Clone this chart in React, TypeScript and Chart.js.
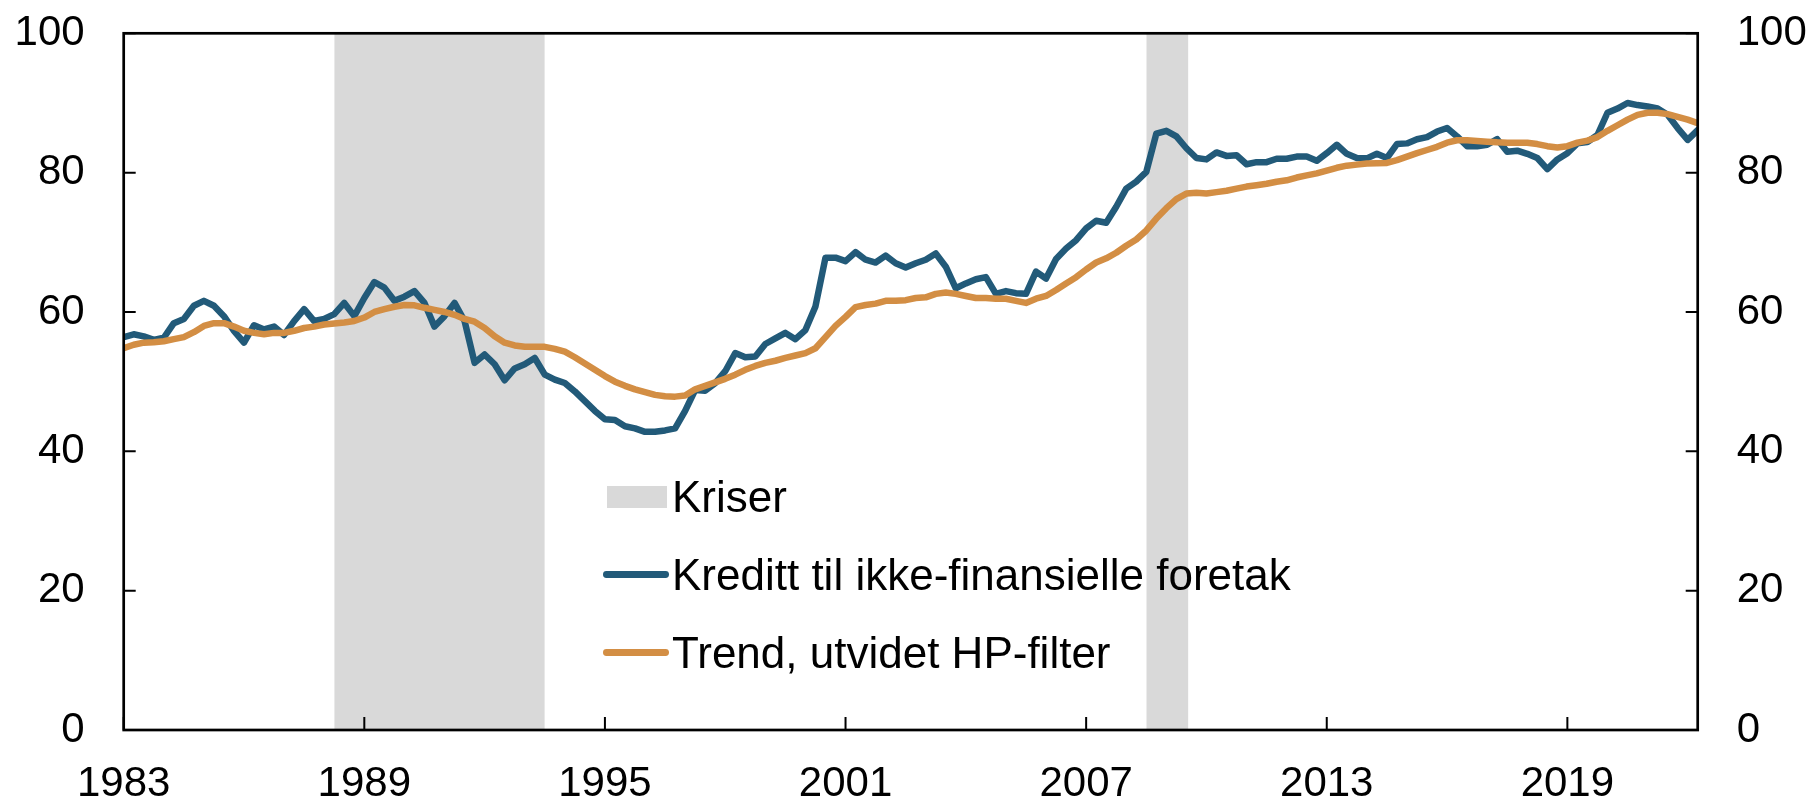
import React, { useEffect, useRef } from "react";
import { Chart, registerables } from "chart.js";

Chart.register(...registerables);

// Quarterly observations, 1983Q1 – 2022Q2
const startYear = 1983;
const kreditt: number[] = [
  56.4, 56.8, 56.5, 56.0, 56.3, 58.4, 59.0, 60.9, 61.6, 60.9,
  59.4, 57.3, 55.6, 58.1, 57.5, 57.9, 56.7, 58.7, 60.4, 58.7,
  59.0, 59.7, 61.3, 59.4, 62.0, 64.3, 63.5, 61.6, 62.2, 63.0,
  61.3, 57.9, 59.4, 61.3, 58.7, 52.7, 53.9, 52.5, 50.2, 51.9,
  52.5, 53.4, 51.0, 50.3, 49.8, 48.6, 47.2, 45.8, 44.6, 44.5,
  43.6, 43.3, 42.8, 42.8, 43.0, 43.3, 45.8, 48.8, 48.7, 49.8,
  51.5, 54.1, 53.5, 53.6, 55.4, 56.2, 57.0, 56.1, 57.4, 60.8,
  67.8, 67.8, 67.3, 68.6, 67.5, 67.1, 68.1, 67.0, 66.4, 67.0,
  67.5, 68.4, 66.5, 63.4, 64.1, 64.7, 65.0, 62.6, 63.0, 62.7,
  62.6, 65.8, 64.8, 67.6, 69.1, 70.3, 72.0, 73.1, 72.8, 75.1,
  77.7, 78.7, 80.1, 85.6, 86.0, 85.2, 83.5, 82.1, 81.9, 82.9,
  82.4, 82.5, 81.2, 81.5, 81.5, 82.0, 82.0, 82.3, 82.3, 81.7,
  82.8, 84.0, 82.7, 82.1, 82.05, 82.7, 82.1, 84.1, 84.2, 84.8,
  85.1, 85.9, 86.4, 85.2, 83.8, 83.8, 84.0, 84.8, 83.0, 83.15,
  82.7, 82.1, 80.5, 81.9, 82.8, 84.2, 84.4, 85.4, 88.6, 89.2,
  90.0, 89.7, 89.5, 89.2, 88.3, 86.4, 84.7, 86.1,
];
const trend: number[] = [
  54.8, 55.3, 55.6, 55.65, 55.8, 56.1, 56.4, 57.1, 58.0, 58.4,
  58.4, 57.9, 57.3, 57.0, 56.8, 57.0, 57.0, 57.3, 57.7, 57.9,
  58.2, 58.35, 58.5, 58.7, 59.2, 60.0, 60.4, 60.75, 61.0, 60.95,
  60.6, 60.3, 60.0, 59.6, 59.0, 58.6, 57.7, 56.5, 55.6, 55.2,
  55.0, 55.0, 55.0, 54.7, 54.3, 53.5, 52.6, 51.7, 50.8, 50.0,
  49.4, 48.9, 48.5, 48.1, 47.9, 47.85, 48.0, 48.9, 49.4, 49.9,
  50.4, 51.0, 51.7, 52.25, 52.7, 53.0, 53.4, 53.75, 54.1, 54.8,
  56.4, 58.0, 59.3, 60.7, 61.0, 61.2, 61.6, 61.6, 61.7, 62.0,
  62.1, 62.6, 62.8, 62.6, 62.3, 62.0, 62.0, 61.9, 61.9, 61.6,
  61.3, 61.9, 62.3, 63.15, 64.1, 65.0, 66.1, 67.1, 67.7, 68.5,
  69.5, 70.4, 71.7, 73.4, 74.9, 76.2, 77.0, 77.1, 77.0, 77.2,
  77.4, 77.7, 78.0, 78.2, 78.4, 78.7, 78.9, 79.3, 79.6, 79.9,
  80.3, 80.7, 81.0, 81.15, 81.3, 81.35, 81.4, 81.8, 82.3, 82.8,
  83.25, 83.7, 84.3, 84.65, 84.65, 84.55, 84.45, 84.35, 84.3, 84.3,
  84.3, 84.1, 83.8, 83.6, 83.8, 84.3, 84.6, 85.1, 86.0, 86.8,
  87.6, 88.3, 88.6, 88.6, 88.4, 88.0, 87.6, 87.1,
];
const crisisStart: number[] = [1988.25, 2008.5];
const crisisEnd: number[] = [1993.5, 2009.55];
const crisisLevel = 100;
const xTicks: number[] = [1983, 1989, 1995, 2001, 2007, 2013, 2019];
const xMin = 1983;
const xMax = 2022.25;
const yMin = 0;
const yMax = 100;
const yStep = 20;

const labels = {
  crisis: "Kriser",
  credit: "Kreditt til ikke-finansielle foretak",
  trend: "Trend, utvidet HP-filter",
};

const BLUE = "#225A79";
const ORANGE = "#D38E44";
const GRAY = "#D9D9D9";
const FONT = '"Liberation Sans", Arial, Helvetica, sans-serif';

const framePlugin = {
  id: "frameTicks",
  afterDatasetsDraw(chart: any) {
    const { ctx, chartArea: a, scales } = chart;
    ctx.save();
    ctx.strokeStyle = "#000";
    ctx.lineWidth = 2;
    ctx.beginPath();
    scales.x.ticks.forEach((t: any) => {
      const px = scales.x.getPixelForValue(t.value);
      ctx.moveTo(px, a.bottom);
      ctx.lineTo(px, a.bottom - 13);
    });
    scales.y.ticks.forEach((t: any) => {
      const py = scales.y.getPixelForValue(t.value);
      ctx.moveTo(a.left, py);
      ctx.lineTo(a.left + 12, py);
    });
    scales.y2.ticks.forEach((t: any) => {
      const py = scales.y2.getPixelForValue(t.value);
      ctx.moveTo(a.right, py);
      ctx.lineTo(a.right - 12, py);
    });
    ctx.stroke();
    ctx.lineWidth = 2.7;
    ctx.strokeRect(a.left, a.top, a.right - a.left, a.bottom - a.top);
    ctx.restore();
  },
};

const fitY = (w: number) => (s: any) => {
  s.width = w;
  s.paddingTop = 0;
  s.paddingBottom = 0;
};

export default function App() {
  const ref = useRef<HTMLCanvasElement | null>(null);

  useEffect(() => {
    document.body.style.margin = "0";
    if (!ref.current) return;
    Chart.defaults.font.family = FONT;
    Chart.defaults.font.size = 42;
    Chart.defaults.color = "#000";

    const xs = kreditt.map((_, i) => startYear + i / 4);

    const crisisSets = crisisStart.map((s, k) => ({
      type: "line" as const,
      label: labels.crisis,
      data: [
        { x: s, y: crisisLevel },
        { x: crisisEnd[k], y: crisisLevel },
      ],
      fill: "origin",
      backgroundColor: GRAY,
      borderWidth: 0,
      borderColor: "rgba(0,0,0,0)",
      pointRadius: 0,
      order: 3,
      yAxisID: "y",
    }));

    const chart = new Chart(ref.current, {
      type: "line",
      data: {
        datasets: [
          {
            label: labels.trend,
            data: trend.map((v, i) => ({ x: xs[i], y: v })),
            borderColor: ORANGE,
            backgroundColor: ORANGE,
            borderWidth: 6.5,
            pointRadius: 0,
            tension: 0,
            fill: false,
            borderJoinStyle: "round",
            borderCapStyle: "round",
            order: 0,
            yAxisID: "y",
          },
          {
            label: labels.credit,
            data: kreditt.map((v, i) => ({ x: xs[i], y: v })),
            borderColor: BLUE,
            backgroundColor: BLUE,
            borderWidth: 6.5,
            pointRadius: 0,
            tension: 0,
            fill: false,
            borderJoinStyle: "round",
            borderCapStyle: "round",
            order: 1,
            yAxisID: "y",
          },
          ...crisisSets,
        ] as any,
      },
      options: {
        animation: false,
        responsive: false,
        devicePixelRatio: 1,
        layout: { padding: { top: 33.3, left: 0, right: 0, bottom: 0 } },
        plugins: { legend: { display: false }, tooltip: { enabled: false } },
        scales: {
          x: {
            type: "linear",
            min: xMin,
            max: xMax,
            afterBuildTicks: (s: any) => {
              s.ticks = xTicks.map((v) => ({ value: v }));
            },
            afterFit: (s: any) => {
              s.height = 70;
              s.paddingLeft = 0;
              s.paddingRight = 0;
            },
            grid: { display: false, drawTicks: false },
            border: { display: false },
            ticks: {
              padding: 29,
              autoSkip: false,
              maxRotation: 0,
              color: "#000",
              font: { size: 42, family: FONT },
              callback: (v: any) => String(v),
            },
          },
          y: {
            position: "left",
            min: yMin,
            max: yMax,
            afterFit: fitY(123.7),
            grid: { display: false, drawTicks: false },
            border: { display: false },
            ticks: {
              stepSize: yStep,
              padding: 39,
              color: "#000",
              font: { size: 42, family: FONT },
            },
          },
          y2: {
            position: "right",
            min: yMin,
            max: yMax,
            afterFit: fitY(114.3),
            grid: { display: false, drawTicks: false },
            border: { display: false },
            ticks: {
              stepSize: yStep,
              padding: 39,
              color: "#000",
              font: { size: 42, family: FONT },
            },
          },
        },
      } as any,
      plugins: [framePlugin],
    });
    return () => chart.destroy();
  }, []);

  const textStyle: React.CSSProperties = {
    position: "absolute",
    left: 672,
    fontFamily: FONT,
    fontSize: 44,
    lineHeight: "48px",
    color: "#000",
    whiteSpace: "nowrap",
  };

  return (
    <div style={{ position: "relative", width: 1812, height: 800 }}>
      <canvas ref={ref} width={1812} height={800} style={{ display: "block" }} />
      <div style={{ position: "absolute", left: 606.8, top: 486, width: 60.4, height: 21.7, background: GRAY }} />
      <div style={{ ...textStyle, top: 472.5 }}>{labels.crisis}</div>
      <div style={{ position: "absolute", left: 603.3, top: 571.1, width: 66, height: 6.8, borderRadius: 3.4, background: BLUE }} />
      <div style={{ ...textStyle, top: 550.5 }}>{labels.credit}</div>
      <div style={{ position: "absolute", left: 603.3, top: 648.8, width: 66, height: 6.8, borderRadius: 3.4, background: ORANGE }} />
      <div style={{ ...textStyle, top: 628.5 }}>{labels.trend}</div>
    </div>
  );
}
